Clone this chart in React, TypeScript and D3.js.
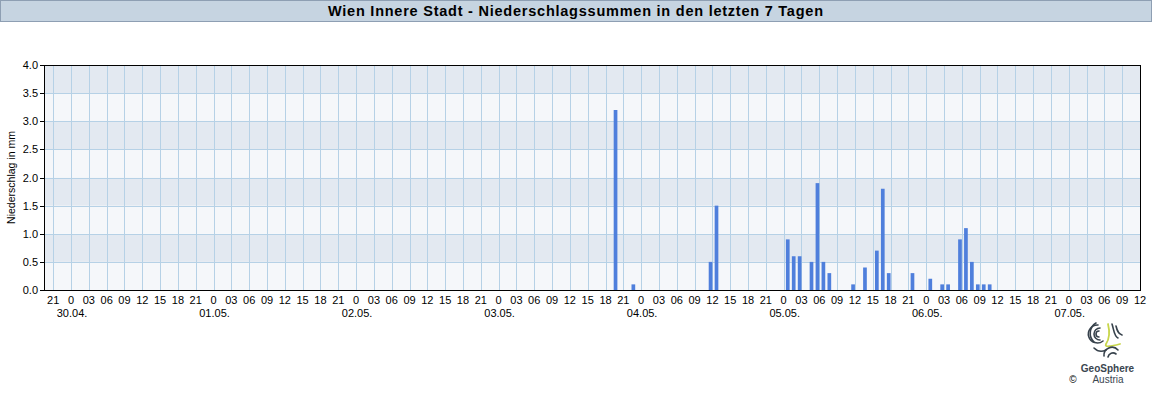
import React from "react";
import * as d3 from "d3";

const TITLE = "Wien Innere Stadt - Niederschlagssummen in den letzten 7 Tagen";
const Y_LABEL = "Niederschlag in mm";
const DOMAIN_START = "2024-04-29T19:27:00Z";
const DOMAIN_END = "2024-05-07T12:00:00Z";

const barTimes = [
  "2024-05-03T20:00:00Z", "2024-05-03T23:00:00Z",
  "2024-05-04T12:00:00Z", "2024-05-04T13:00:00Z",
  "2024-05-05T01:00:00Z", "2024-05-05T02:00:00Z", "2024-05-05T03:00:00Z",
  "2024-05-05T05:00:00Z", "2024-05-05T06:00:00Z", "2024-05-05T07:00:00Z",
  "2024-05-05T08:00:00Z", "2024-05-05T12:00:00Z", "2024-05-05T14:00:00Z",
  "2024-05-05T16:00:00Z", "2024-05-05T17:00:00Z", "2024-05-05T18:00:00Z",
  "2024-05-05T22:00:00Z",
  "2024-05-06T01:00:00Z", "2024-05-06T03:00:00Z", "2024-05-06T04:00:00Z",
  "2024-05-06T06:00:00Z", "2024-05-06T07:00:00Z", "2024-05-06T08:00:00Z",
  "2024-05-06T09:00:00Z", "2024-05-06T10:00:00Z", "2024-05-06T11:00:00Z",
];
const barValues = [
  3.2, 0.1,
  0.5, 1.5,
  0.9, 0.6, 0.6,
  0.5, 1.9, 0.5,
  0.3, 0.1, 0.4,
  0.7, 1.8, 0.3,
  0.3,
  0.2, 0.1, 0.1,
  0.9, 1.1, 0.5,
  0.1, 0.1, 0.1,
];
const yTicks = [0, 0.5, 1.0, 1.5, 2.0, 2.5, 3.0, 3.5, 4.0];

const W = 1152;
const H = 400;
const L = 44, R = 1140, T = 65, B = 290;
const FONT = "'Liberation Sans', Arial, Helvetica, sans-serif";
const BAR = "#4f7fdc";
const GRID = "#b6d1e6";
const BAND_DARK = "#e3e9f1";
const BAND_LIGHT = "#f5f7fa";

export default function App() {
  const start = new Date(DOMAIN_START);
  const end = new Date(DOMAIN_END);
  const x = d3.scaleUtc().domain([start, end]).range([L, R]);
  const y = d3.scaleLinear().domain([0, 4]).range([B, T]);

  const tickTimes = d3.utcHour.every(3)!.range(start, new Date(end.getTime() + 1));
  const dayTimes = d3.utcDay.range(start, end);
  const fmtDay = d3.utcFormat("%d.%m.");
  const fmtHour = (d: Date) => (d.getUTCHours() === 0 ? "0" : d3.format("02")(d.getUTCHours()));

  const bands = yTicks.slice(0, -1).map((v, i) => ({ v0: v, v1: yTicks[i + 1], dark: i % 2 === 1 }));
  const bars = barTimes.map((t, i) => ({ t: new Date(t), v: barValues[i] }));
  const barW = 3.7;

  return (
    <svg width={W} height={H} style={{ position: "absolute", left: 0, top: 0, background: "#fff" }} fontFamily={FONT}>
      {/* title bar */}
      <rect x={0.5} y={0.5} width={W - 1} height={21} fill="#c6d4e1" stroke="#8e9fb3" />
      <text x={328} y={16} fontSize={14.5} fontWeight="bold" fill="#000" textLength={495} lengthAdjust="spacing">{TITLE}</text>

      {/* bands */}
      {bands.map((b, i) => (
        <rect key={i} x={L} y={y(b.v1)} width={R - L} height={y(b.v0) - y(b.v1)} fill={b.dark ? BAND_DARK : BAND_LIGHT} />
      ))}
      {/* vertical grid */}
      {tickTimes.map((t, i) => (
        <line key={i} x1={Math.round(x(t)) + 0.5} x2={Math.round(x(t)) + 0.5} y1={T} y2={B} stroke={GRID} />
      ))}
      {/* horizontal grid */}
      {yTicks.map((v, i) => (
        <line key={i} x1={L} x2={R} y1={Math.round(y(v)) + 0.5} y2={Math.round(y(v)) + 0.5} stroke={GRID} />
      ))}
      {/* bars */}
      {bars.map((b, i) => (
        <rect key={i} x={x(b.t) - barW} y={y(b.v)} width={barW} height={y(0) - y(b.v)} fill={BAR} />
      ))}
      {/* frame */}
      <rect x={L + 0.5} y={T + 0.5} width={R - L} height={B - T} fill="none" stroke="#000" />
      {/* y ticks */}
      {yTicks.map((v, i) => (
        <g key={i}>
          <line x1={40} x2={L} y1={Math.round(y(v)) + 0.5} y2={Math.round(y(v)) + 0.5} stroke="#000" />
          <text x={38} y={y(v) + 4} textAnchor="end" fontSize={11} fill="#000">{v.toFixed(1)}</text>
        </g>
      ))}
      <text transform={`translate(15,${(T + B) / 2}) rotate(-90)`} textAnchor="middle" fontSize={10.5} fill="#000">{Y_LABEL}</text>
      {/* x labels */}
      {tickTimes.map((t, i) => (
        <text key={i} x={x(t)} y={303.5} textAnchor="middle" fontSize={11} fill="#000">{fmtHour(t)}</text>
      ))}
      {dayTimes.map((t, i) => (
        <text key={i} x={x(t) + 1} y={317} textAnchor="middle" fontSize={11} fill="#000">{fmtDay(t)}</text>
      ))}
      {/* logo */}
      <g transform="translate(1106,340)" fill="none" strokeLinecap="round">
        <path d="M-6,-12 A6,6 0 1,0 -6,0" stroke="#37424c" strokeWidth={1.6} />
        <path d="M-8,-15 A9,9 0 1,0 -3,1" stroke="#37424c" strokeWidth={1.6} />
        <path d="M-10,-17 A12,12 0 0,0 -12,2" stroke="#37424c" strokeWidth={1.6} />
        <path d="M-7,-9 A3,3 0 1,0 -7,-3" stroke="#37424c" strokeWidth={1.6} />
        <path d="M2,-16 C4,-8 4,-2 0,4 C-2,8 6,6 14,4" stroke="#c8d64a" strokeWidth={1.8} />
        <path d="M6,-16 C8,-10 8,-4 12,-2" stroke="#37424c" strokeWidth={1.6} />
        <path d="M10,-14 C11,-10 12,-6 16,-5" stroke="#37424c" strokeWidth={1.6} />
        <path d="M-2,16 A8,8 0 0,1 12,10" stroke="#37424c" strokeWidth={1.6} />
        <path d="M2,17 A5,5 0 0,1 10,14" stroke="#37424c" strokeWidth={1.6} />
        <path d="M-12,8 C-8,12 -4,12 0,10" stroke="#37424c" strokeWidth={1.6} />
      </g>
      <text x={1107.5} y={371.5} textAnchor="middle" fontSize={10} fontWeight="bold" fill="#3a4650">GeoSphere</text>
      <text x={1108} y={383} textAnchor="middle" fontSize={10} fill="#3a4650">Austria</text>
      <text x={1073} y={383} textAnchor="middle" fontSize={10} fill="#000">©</text>
    </svg>
  );
}
